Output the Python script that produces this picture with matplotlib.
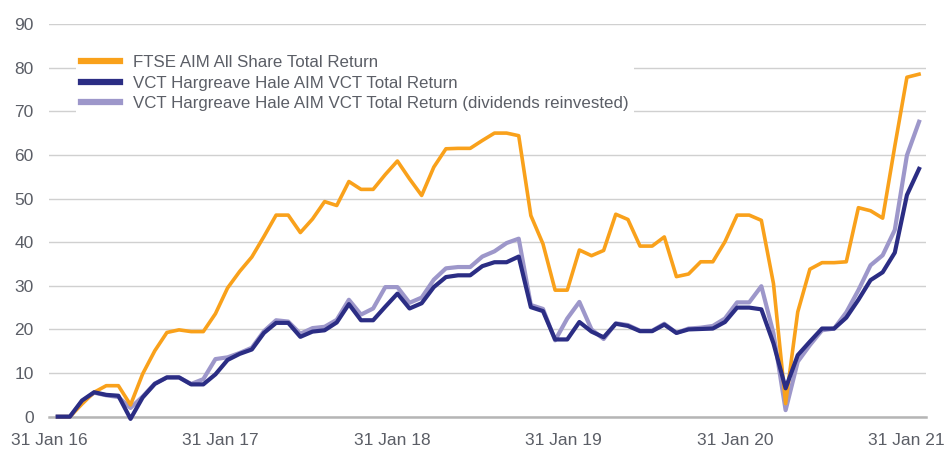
import matplotlib.pyplot as plt
import numpy as np

ftse = [0, 0, 2.9, 5.6, 7.1, 7.1, 2.7, 9.8, 15.1, 19.3, 19.9, 19.5, 19.5, 23.6,
        29.5, 33.3, 36.6, 41.3, 46.2, 46.2, 42.2, 45.3, 49.3, 48.4, 53.9, 52.1,
        52.1, 55.5, 58.6, 54.5, 50.7, 57.2, 61.4, 61.5, 61.5, 63.3, 65.0, 65.0,
        64.4, 46.1, 39.6, 29.0, 29.0, 38.2, 36.9, 38.1, 46.4, 45.2, 39.1, 39.1,
        41.2, 32.1, 32.7, 35.5, 35.5, 40.1, 46.2, 46.2, 45.0, 30.5, 3.0, 24.0,
        33.8, 35.3, 35.3, 35.5, 47.9, 47.2, 45.5, 62.0, 77.8, 78.5]
vct = [0, 0, 3.7, 5.6, 5.0, 4.8, -0.5, 4.4, 7.5, 9.0, 9.0, 7.4, 7.4, 9.7,
       13.0, 14.4, 15.4, 19.2, 21.5, 21.5, 18.3, 19.5, 19.8, 21.6, 25.8, 22.1,
       22.1, 25.2, 28.2, 24.8, 26.0, 29.7, 32.0, 32.4, 32.4, 34.5, 35.4, 35.4,
       36.7, 25.1, 24.2, 17.7, 17.7, 21.7, 19.5, 18.2, 21.3, 20.8, 19.6, 19.6,
       21.1, 19.2, 20.0, 20.1, 20.2, 21.7, 25.0, 25.0, 24.6, 16.8, 6.5, 14.1,
       17.2, 20.2, 20.2, 22.7, 26.8, 31.3, 33.1, 37.6, 50.8, 56.8]
vct_reinv = [0, 0, 3.5, 5.5, 4.9, 4.5, 2.0, 4.6, 7.6, 9.0, 9.0, 7.5, 8.6, 13.2,
             13.6, 14.6, 15.8, 19.6, 22.1, 21.8, 19.0, 20.3, 20.6, 22.2, 26.8, 23.4,
             24.8, 29.7, 29.7, 26.1, 27.3, 31.4, 34.0, 34.3, 34.3, 36.7, 37.9, 39.8,
             40.8, 25.6, 24.7, 17.5, 22.5, 26.3, 20.0, 17.8, 21.4, 21.0, 19.7, 19.7,
             21.3, 19.2, 20.2, 20.4, 20.8, 22.5, 26.2, 26.2, 29.9, 19.1, 1.5, 12.6,
             16.4, 19.8, 20.2, 23.9, 29.0, 34.7, 37.0, 42.8, 59.9, 67.6]
date_labels = ['31 Jan 16', '31 Jan 17', '31 Jan 18', '31 Jan 19', '31 Jan 20', '31 Jan 21']
series_names = ['FTSE AIM All Share Total Return',
                'VCT Hargreave Hale AIM VCT Total Return',
                'VCT Hargreave Hale AIM VCT Total Return (dividends reinvested)']

txt_col = '#5b5e66'
x = np.arange(len(ftse))

fig = plt.figure(figsize=(9.44, 4.49), dpi=100)
ax = fig.add_axes([0.0519, 0.072, 0.929, 0.8745])

l1, = ax.plot(x, ftse, color='#F9A11B', lw=2.6, zorder=4, clip_on=False)
l2, = ax.plot(x, vct, color='#2B2D84', lw=3.0, zorder=5, clip_on=False)
l3, = ax.plot(x, vct_reinv, color='#9D97CA', lw=3.0, zorder=3, clip_on=False)

ax.set_xlim(-0.55, 71.57)
ax.set_ylim(0, 90)
ax.set_yticks(range(0, 91, 10))
ax.yaxis.grid(True, color='#d0d0d0', lw=1.0)
ax.set_axisbelow(True)
for s in ['top', 'right', 'left']:
    ax.spines[s].set_visible(False)
ax.spines['bottom'].set_color('#b5b5b5')
ax.spines['bottom'].set_linewidth(1.8)

tick_pos = [-0.72 + 14.14 * k for k in range(len(date_labels))]
ax.set_xticks(tick_pos)
ax.set_xticklabels(date_labels)
ax.tick_params(axis='both', length=0, labelcolor=txt_col, labelsize=12.5)
ax.tick_params(axis='x', pad=12)
ax.tick_params(axis='y', pad=11)
for t in ax.get_xticklabels() + ax.get_yticklabels():
    t.set_family('Liberation Sans')

leg = ax.legend([l1, l2, l3], series_names, loc='upper left',
                bbox_to_anchor=(0.0308, 0.934), borderaxespad=0,
                frameon=True, fancybox=False, edgecolor='none', facecolor='white',
                framealpha=1, handlelength=2.3, handletextpad=0.77,
                labelspacing=0.33, borderpad=0.3,
                prop={'family': 'Liberation Sans', 'size': 12.2})
for t in leg.get_texts():
    t.set_color(txt_col)
for h in leg.get_lines():
    h.set_linewidth(4.5)

fig.savefig('out.png', dpi=100)
